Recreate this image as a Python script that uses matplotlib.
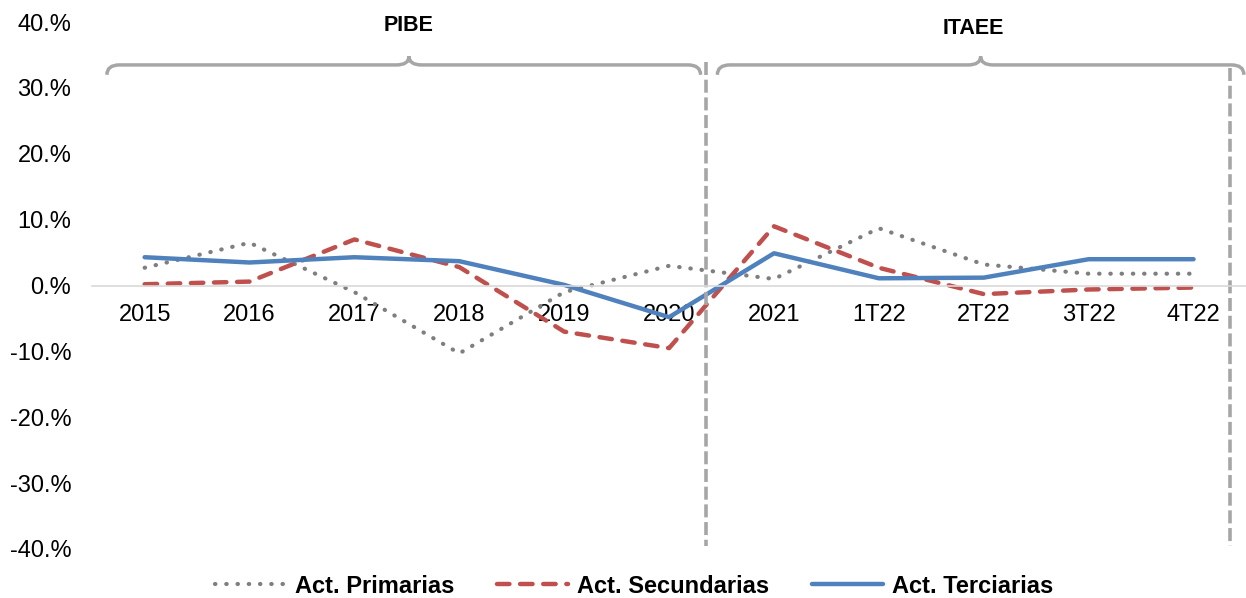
import matplotlib
matplotlib.use('Agg')
import matplotlib.pyplot as plt
from matplotlib.path import Path
from matplotlib.patches import PathPatch
from matplotlib.ticker import FuncFormatter

plt.rcParams['font.family'] = ['Liberation Sans', 'DejaVu Sans']

# datos
periodos = ['2015', '2016', '2017', '2018', '2019', '2020', '2021', '1T22', '2T22', '3T22', '4T22']
primarias = [2.7, 6.5, -1.0, -10.3, -1.0, 3.0, 1.0, 8.7, 3.2, 1.8, 1.8]
secundarias = [0.2, 0.6, 7.0, 2.8, -7.0, -9.5, 9.0, 2.7, -1.3, -0.6, -0.3]
terciarias = [4.3, 3.5, 4.3, 3.7, 0.1, -4.8, 4.9, 1.1, 1.2, 4.0, 4.0]
yticks = [-40, -30, -20, -10, 0, 10, 20, 30, 40]

gris = '#A6A6A6'

fig = plt.figure(figsize=(12.46, 5.98), dpi=100)
ax = fig.add_axes([0.074, 0.082, 0.926, 0.881])

x = list(range(len(periodos)))
ax.plot(x, primarias, color='#7F7F7F', lw=3, linestyle=(0, (0.1, 2.6)),
        dash_capstyle='round', label='Act. Primarias')
ax.plot(x, secundarias, color='#C0504D', lw=3.2, linestyle=(0, (2.8, 2.4)),
        dash_capstyle='round', label='Act. Secundarias')
ax.plot(x, terciarias, color='#4F81BD', lw=3.2, label='Act. Terciarias',
        solid_capstyle='round')

ax.set_xlim(-0.5, 10.5)
ax.set_ylim(-40, 40)
ax.set_yticks(yticks)
ax.yaxis.set_major_formatter(FuncFormatter(lambda v, p: '%d.%%' % v))
ax.set_xticks(x)
ax.set_xticklabels(periodos)

for s in ['top', 'right', 'left']:
    ax.spines[s].set_visible(False)
ax.spines['bottom'].set_position(('data', 0))
ax.spines['bottom'].set_color('#D9D9D9')
ax.spines['bottom'].set_linewidth(1.2)
ax.tick_params(axis='x', length=0, pad=13, labelsize=17)
ax.tick_params(axis='y', length=0, pad=15, labelsize=17)

# lineas verticales punteadas
ax.plot([5.35, 5.35], [34.0, -39.5], color=gris, lw=2.6,
        linestyle=(0, (3.6, 1.3)), clip_on=False)
ax.plot([10.35, 10.35], [33.0, -39.5], color=gris, lw=2.6,
        linestyle=(0, (3.6, 1.3)), clip_on=False)


def llave(x0, x1, xm, ybase=33.5, yext=32.0, ytip=34.8, h=0.12):
    verts = [(x0, yext), (x0, ybase), (x0 + h, ybase),
             (xm - h, ybase), (xm, ybase), (xm, ytip),
             (xm, ybase), (xm + h, ybase),
             (x1 - h, ybase), (x1, ybase), (x1, yext)]
    codes = [Path.MOVETO, Path.CURVE3, Path.CURVE3,
             Path.LINETO, Path.CURVE3, Path.CURVE3,
             Path.CURVE3, Path.CURVE3,
             Path.LINETO, Path.CURVE3, Path.CURVE3]
    ax.add_patch(PathPatch(Path(verts, codes), fill=False, edgecolor=gris,
                           lw=2.5, clip_on=False))


llave(-0.36, 5.3, 2.52)
llave(5.46, 10.48, 7.97)
ax.text(2.52, 39.5, 'PIBE', ha='center', va='center', fontsize=15.5, fontweight='bold')
ax.text(7.9, 39.0, 'ITAEE', ha='center', va='center', fontsize=15.5, fontweight='bold')

leg = fig.legend(loc='lower center', bbox_to_anchor=(0.509, -0.035), ncol=3, frameon=False,
                 handlelength=3.0, columnspacing=1.8, handletextpad=0.4,
                 prop={'size': 17, 'weight': 'bold'})

fig.savefig('out.png', dpi=100)
